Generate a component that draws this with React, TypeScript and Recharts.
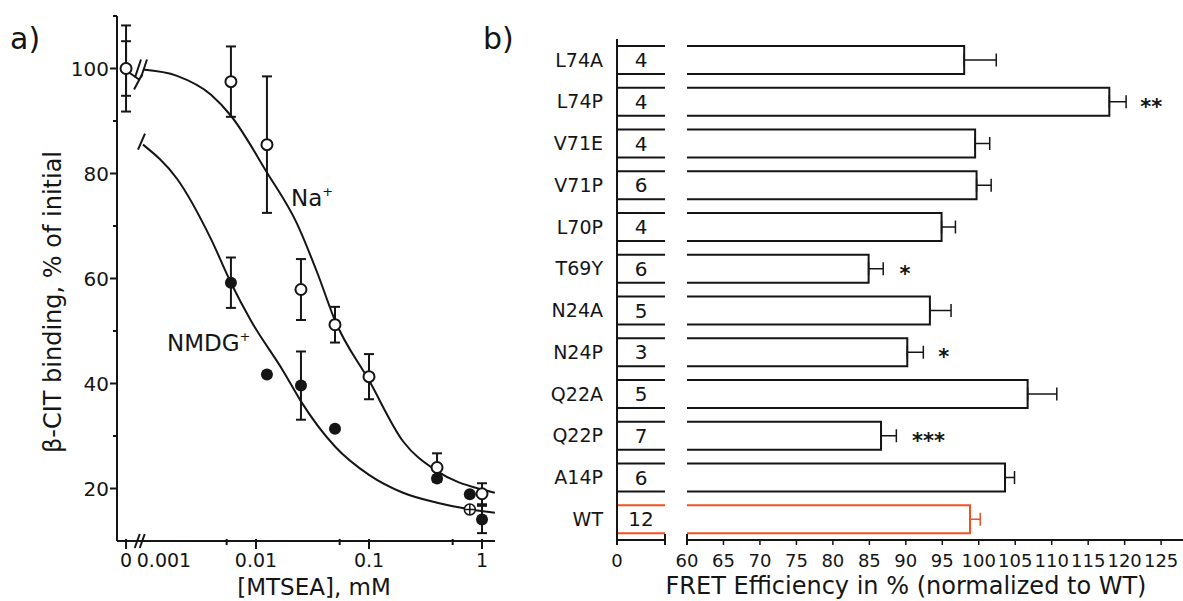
import React from 'react';
import {
  ComposedChart, BarChart, Bar, Line, Scatter, XAxis, YAxis,
  ErrorBar, LabelList, ReferenceDot,
} from 'recharts';

// ---- panel a: beta-CIT binding vs [MTSEA] ----
const naConc = [0, 0.006, 0.0125, 0.025, 0.05, 0.1, 0.4, 1];
const naBinding = [100, 97.5, 85.5, 57.9, 51.2, 41.3, 24.0, 19.0];
const naErr = [8.2, 6.7, 13.0, 5.8, 3.4, 4.3, 2.7, 2.0];

const nmdgConc = [0, 0.006, 0.0125, 0.025, 0.05, 0.4, 0.78, 1];
const nmdgBinding = [100, 59.2, 41.7, 39.6, 31.4, 21.9, 18.9, 14.1];
const nmdgErr = [5.2, 4.8, 0, 6.5, 0, 0, 0, 2.6];

const crossConc = [0.78];
const crossBinding = [16.0];

// fitted curves
const naFitConc = [0.001, 0.002, 0.004, 0.006, 0.0125, 0.023, 0.035, 0.05, 0.1, 0.2, 0.4, 1, 1.3];
const naFit = [99.8, 98.6, 95.0, 91.0, 80.2, 70.5, 61.0, 52.0, 40.6, 29.0, 23.3, 19.8, 19.2];
const nmdgFitConc = [0.001, 0.002, 0.004, 0.006, 0.009, 0.0175, 0.025, 0.05, 0.1, 0.2, 0.4, 0.8, 1.3];
const nmdgFit = [85.5, 79.0, 67.5, 59.2, 52.0, 42.3, 36.6, 28.0, 22.6, 19.2, 17.3, 16.0, 15.4];

const xTickConc = [0, 0.001, 0.0055, 0.01, 0.055, 0.1, 0.55, 1];
const xTickLabels = ['0', '0.001', '', '0.01', '', '0.1', '', '1'];
const yTicksA = [20, 30, 40, 50, 60, 70, 80, 90, 100, 110];

// ---- panel b: FRET efficiency ----
const mutants = ['L74A', 'L74P', 'V71E', 'V71P', 'L70P', 'T69Y', 'N24A', 'N24P', 'Q22A', 'Q22P', 'A14P', 'WT'];
const fret = [98.0, 117.9, 99.5, 99.7, 94.9, 84.9, 93.3, 90.2, 106.7, 86.6, 103.6, 98.8];
const fretErr = [4.4, 2.3, 2.0, 2.0, 1.9, 2.0, 2.9, 2.2, 4.0, 2.1, 1.3, 1.4];
const nCells = [4, 4, 4, 6, 4, 6, 5, 3, 5, 7, 6, 12];
const signif = ['', '**', '', '', '', '*', '', '*', '', '***', '', ''];
const xTicksB = [60, 65, 70, 75, 80, 85, 90, 95, 100, 105, 110, 115, 120, 125];

const INK = '#151515';
const WT_COLOR = '#f4511e';
const ZERO_LOG = -3.15; // where "0" sits on the log axis

const toLog = (c: number) => (c === 0 ? ZERO_LOG : Math.log10(c));

const naPoints = naConc.map((c, i) => ({ x: toLog(c), y: naBinding[i], err: naErr[i] }));
const nmdgPoints = nmdgConc.map((c, i) => ({ x: toLog(c), y: nmdgBinding[i], err: nmdgErr[i] }));
const crossPoints = crossConc.map((c, i) => ({ x: toLog(c), y: crossBinding[i] }));
const naCurve = naFitConc.map((c, i) => ({ x: Math.log10(c), y: naFit[i] }));
const nmdgCurve = nmdgFitConc.map((c, i) => ({ x: Math.log10(c), y: nmdgFit[i] }));
const xTickPos = xTickConc.map(toLog);

const rows = mutants.map((name, i) => ({
  name,
  fret: fret[i],
  n: nCells[i],
  sig: signif[i],
  errBlack: name === 'WT' ? undefined : [0, fretErr[i]],
  errWT: name === 'WT' ? [0, fretErr[i]] : undefined,
}));

const XTickA = (props: any) => {
  const { x, y, payload } = props;
  const i = xTickPos.findIndex((p) => Math.abs(p - payload.value) < 1e-6);
  const label = xTickLabels[i] ?? '';
  const minor = label === '';
  const shifted = label === '0.001';
  return (
    <g>
      {!shifted && (
        <line x1={x} y1={y - 2} x2={x} y2={y + (minor ? 4 : 8)} stroke={INK} strokeWidth={2} />
      )}
      {label && (
        <text x={shifted ? x + 21 : x} y={y + 26} textAnchor="middle" fontSize={19} fill={INK}>
          {label}
        </text>
      )}
    </g>
  );
};

const YTickA = (props: any) => {
  const { x, y, payload } = props;
  const v = payload.value;
  const major = v % 20 === 0;
  return (
    <g>
      <line x1={x - (major ? 7 : 4)} y1={y} x2={x} y2={y} stroke={INK} strokeWidth={2} />
      {major && v <= 100 && (
        <text x={x - 8} y={y + 7} textAnchor="end" fontSize={20} fill={INK}>{v}</text>
      )}
    </g>
  );
};

const OpenDot = (p: any) => (
  <circle cx={p.cx} cy={p.cy} r={5.5} fill="#fff" stroke={INK} strokeWidth={2} />
);
const FilledDot = (p: any) => <circle cx={p.cx} cy={p.cy} r={6} fill={INK} />;
const CrossDot = (p: any) => (
  <g stroke={INK} strokeWidth={1.5} fill="#fff">
    <circle cx={p.cx} cy={p.cy} r={5.5} />
    <line x1={p.cx - 5.5} y1={p.cy} x2={p.cx + 5.5} y2={p.cy} />
    <line x1={p.cx} y1={p.cy - 5.5} x2={p.cx} y2={p.cy + 5.5} />
  </g>
);

// axis / curve break ornaments
const DoubleSlash = (p: any) => (
  <g stroke={INK} strokeWidth={2}>
    <line x1={p.cx - 6} y1={p.cy + 7} x2={p.cx - 1} y2={p.cy - 7} />
    <line x1={p.cx - 1} y1={p.cy + 7} x2={p.cx + 4} y2={p.cy - 7} />
  </g>
);
const NaBreak = (p: any) => (
  <g stroke={INK} strokeWidth={2}>
    <line x1={p.cx - 8} y1={p.cy + 9} x2={p.cx - 2} y2={p.cy - 9} />
    <line x1={p.cx - 2} y1={p.cy + 9} x2={p.cx + 4} y2={p.cy - 9} />
  </g>
);
const NmdgStub = (p: any) => (
  <g stroke={INK} strokeWidth={2}>
    <line x1={p.cx + 3} y1={p.cy + 4} x2={p.cx + 13} y2={p.cy + 11} />
    <line x1={p.cx + 8} y1={p.cy + 21} x2={p.cx + 16} y2={p.cy + 6} />
  </g>
);
const NmdgCap = (p: any) => (
  <line x1={p.cx - 5} y1={p.cy + 5} x2={p.cx + 2} y2={p.cy - 11} stroke={INK} strokeWidth={2} />
);

// panel b shapes
const LeftStub = (p: any) => {
  const { x, y, height, payload, background } = p;
  const right = background ? background.x + background.width : x + p.width;
  const c = payload.name === 'WT' ? WT_COLOR : INK;
  return (
    <g stroke={c} strokeWidth={2}>
      <line x1={x} y1={y} x2={right} y2={y} />
      <line x1={x} y1={y + height} x2={right} y2={y + height} />
    </g>
  );
};

const RightBar = (p: any) => {
  const { x, y, width, height, payload } = p;
  const c = payload.name === 'WT' ? WT_COLOR : INK;
  return (
    <path
      d={`M${x},${y} H${x + width} V${y + height} H${x}`}
      fill="none"
      stroke={c}
      strokeWidth={2}
    />
  );
};

const NLabel = (p: any) => {
  const { x, y, height, value } = p;
  return (
    <text x={x + 24} y={y + height / 2 + 7} textAnchor="middle" fontSize={20} fill={INK}>
      {value}
    </text>
  );
};

const StarLabel = (p: any) => {
  const { x, y, width, height, value } = p;
  if (!value) return null;
  return (
    <text x={x + width + 31} y={y + height / 2 + 12} fontSize={21} fontWeight="bold" fill={INK}>
      {value}
    </text>
  );
};

const LeftTickB = (props: any) => {
  const { x, y, payload } = props;
  const zero = payload.value === 0;
  return (
    <g>
      <line x1={x} y1={zero ? y : y - 6} x2={x} y2={y + 5} stroke={INK} strokeWidth={2} />
      {zero && (
        <text x={x} y={y + 27} textAnchor="middle" fontSize={18} fill={INK}>0</text>
      )}
    </g>
  );
};

const RightTickB = (props: any) => {
  const { x, y, payload } = props;
  const first = payload.value === 60;
  return (
    <g>
      <line x1={x} y1={first ? y - 6 : y} x2={x} y2={y + 5} stroke={INK} strokeWidth={first ? 2 : 1.5} />
      <text x={x} y={y + 27} textAnchor="middle" fontSize={18} fill={INK}>{payload.value}</text>
    </g>
  );
};

const axisStyle = { stroke: INK, strokeWidth: 2 };

export default function App() {
  return (
    <div
      style={{
        position: 'absolute', left: 0, top: 0, width: 1183, height: 601,
        background: '#fff', fontFamily: '"DejaVu Sans", Verdana, sans-serif',
      }}
    >
      <div style={{ position: 'absolute', left: 0, top: 0 }}>
        <ComposedChart width={500} height={601} margin={{ top: 16, right: 5, bottom: 0, left: 0 }}>
          <XAxis
            type="number"
            dataKey="x"
            domain={[-3.23, 0.115]}
            allowDataOverflow
            ticks={xTickPos}
            interval={0}
            tickSize={0}
            tickMargin={0}
            tickLine={false}
            tick={<XTickA />}
            axisLine={axisStyle}
            height={60}
          />
          <YAxis
            type="number"
            dataKey="y"
            domain={[10, 110]}
            allowDataOverflow
            ticks={yTicksA}
            interval={0}
            tickSize={0}
            tickMargin={0}
            tickLine={false}
            tick={<YTickA />}
            axisLine={axisStyle}
            width={117}
          />
          <Line data={naCurve} dataKey="y" type="monotone" dot={false} stroke={INK} strokeWidth={2} isAnimationActive={false} />
          <Line data={nmdgCurve} dataKey="y" type="monotone" dot={false} stroke={INK} strokeWidth={2} isAnimationActive={false} />
          <Scatter data={nmdgPoints} dataKey="y" shape={FilledDot} isAnimationActive={false}>
            <ErrorBar dataKey="err" direction="y" width={5} stroke={INK} strokeWidth={2} />
          </Scatter>
          <Scatter data={crossPoints} dataKey="y" shape={CrossDot} isAnimationActive={false} />
          <Scatter data={naPoints} dataKey="y" shape={OpenDot} isAnimationActive={false}>
            <ErrorBar dataKey="err" direction="y" width={5} stroke={INK} strokeWidth={2} />
          </Scatter>
          <ReferenceDot x={-3.02} y={10} ifOverflow="visible" shape={DoubleSlash} />
          <ReferenceDot x={-3.0} y={100} ifOverflow="visible" shape={NaBreak} />
          <ReferenceDot x={ZERO_LOG} y={100} ifOverflow="visible" shape={NmdgStub} />
          <ReferenceDot x={-3.0} y={85.5} ifOverflow="visible" shape={NmdgCap} />
        </ComposedChart>
      </div>

      <div style={{ position: 'absolute', left: 500, top: 0 }}>
        <BarChart
          layout="vertical"
          width={170}
          height={601}
          data={rows}
          margin={{ top: 39, right: 5, bottom: 0, left: 0 }}
          barSize={28}
        >
          <XAxis
            type="number"
            domain={[0, 10]}
            ticks={[0, 10]}
            allowDataOverflow
            interval={0}
            tickSize={0}
            tickMargin={0}
            tickLine={false}
            tick={<LeftTickB />}
            axisLine={axisStyle}
            height={61}
          />
          <YAxis
            type="category"
            dataKey="name"
            width={117}
            interval={0}
            tickLine={false}
            tickSize={6}
            tickMargin={8}
            axisLine={axisStyle}
            tick={{ fontSize: 19, fill: INK }}
          />
          <Bar dataKey="fret" shape={LeftStub} isAnimationActive={false}>
            <LabelList dataKey="n" content={NLabel} />
          </Bar>
        </BarChart>
      </div>

      <div style={{ position: 'absolute', left: 670, top: 0 }}>
        <BarChart
          layout="vertical"
          width={513}
          height={601}
          data={rows}
          margin={{ top: 39, right: 0, bottom: 0, left: 17 }}
          barSize={28}
        >
          <XAxis
            type="number"
            domain={[60, 128]}
            ticks={xTicksB}
            allowDataOverflow
            interval={0}
            tickSize={0}
            tickMargin={0}
            tickLine={false}
            tick={<RightTickB />}
            axisLine={axisStyle}
            height={61}
          />
          <YAxis type="category" dataKey="name" hide />
          <Bar dataKey="fret" shape={RightBar} isAnimationActive={false}>
            <ErrorBar dataKey="errBlack" direction="x" width={6.5} stroke={INK} strokeWidth={1.5} />
            <ErrorBar dataKey="errWT" direction="x" width={6.5} stroke={WT_COLOR} strokeWidth={1.5} />
            <LabelList dataKey="sig" content={StarLabel} />
          </Bar>
        </BarChart>
      </div>

      <svg
        width={1183}
        height={601}
        style={{ position: 'absolute', left: 0, top: 0, pointerEvents: 'none' }}
        fontFamily='"DejaVu Sans", Verdana, sans-serif'
        fill={INK}
      >
        <text x={10} y={49} fontSize={30}>a)</text>
        <text x={483} y={49} fontSize={30}>b)</text>
        <text transform="rotate(-90)" x={-302} y={61} textAnchor="middle" fontSize={24}>
          β-CIT binding, % of initial
        </text>
        <text x={314} y={595} textAnchor="middle" fontSize={23}>[MTSEA], mM</text>
        <text x={906} y={594} textAnchor="middle" fontSize={24}>
          FRET Efficiency in % (normalized to WT)
        </text>
        <text x={291} y={206} fontSize={23}>
          Na<tspan fontSize={13} dy={-10}>+</tspan>
        </text>
        <text x={167} y={351} fontSize={23}>
          NMDG<tspan fontSize={13} dy={-10}>+</tspan>
        </text>
      </svg>
    </div>
  );
}
